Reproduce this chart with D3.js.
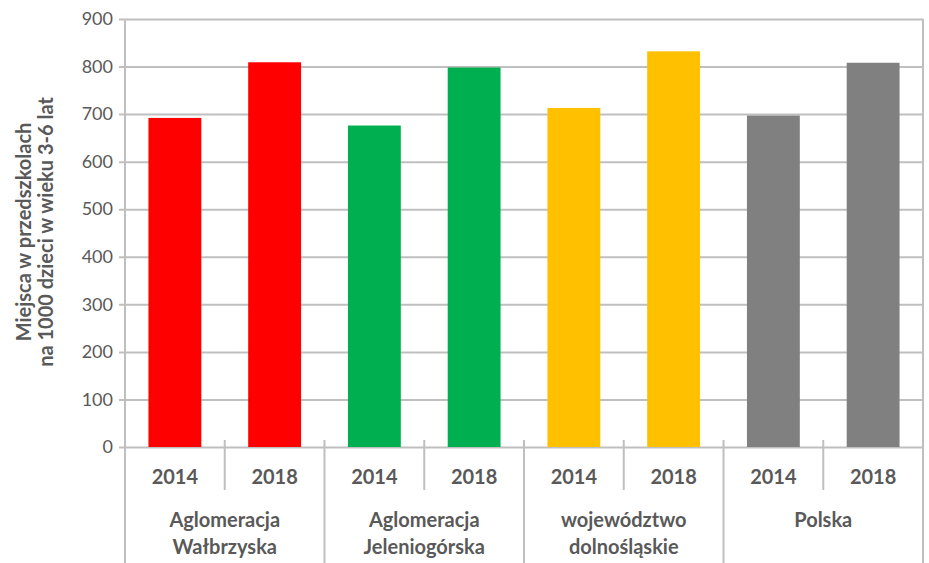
<!DOCTYPE html>
<html>
<head>
<meta charset="utf-8">
<script src="https://cdn.jsdelivr.net/npm/d3@7"></script>
<style>
  body { margin: 0; background: #fff; }
  text { font-family: Lato, "Open Sans", sans-serif; fill: #595959; }
</style>
</head>
<body>
<div id="chart"></div>
<script>
// data
const groups = ["Aglomeracja Wałbrzyska", "Aglomeracja Jeleniogórska", "województwo dolnośląskie", "Polska"];
const groupLines = [["Aglomeracja", "Wałbrzyska"], ["Aglomeracja", "Jeleniogórska"], ["województwo", "dolnośląskie"], ["Polska"]];
const years = ["2014", "2018"];
const values2014 = [692, 676, 713, 697];
const values2018 = [809, 798, 832, 808];
const groupColors = ["#ff0000", "#00b050", "#ffc000", "#808080"];
const yTicks = [0, 100, 200, 300, 400, 500, 600, 700, 800, 900];
const yTitle = ["Miejsca w przedszkolach", "na 1000 dzieci w wieku 3-6 lat"];

const width = 929;
const height = 563;
const margin = { top: 19, right: 6, bottom: 116, left: 125 };

// flatten into one row per bar
const rows = [];
groups.forEach((g, i) => {
  rows.push({ key: g + "|" + years[0], group: i, year: years[0], value: values2014[i] });
  rows.push({ key: g + "|" + years[1], group: i, year: years[1], value: values2018[i] });
});

const svg = d3
  .select("#chart")
  .append("svg")
  .attr("width", width)
  .attr("height", height);

const x = d3
  .scaleBand()
  .domain(rows.map((d) => d.key))
  .range([margin.left, width - margin.right])
  .paddingInner(0.47)
  .paddingOuter(0.235);

const y = d3
  .scaleLinear()
  .domain([0, 900])
  .range([height - margin.bottom, margin.top]);

const step = x.step();
const x0 = margin.left;
const x1 = width - margin.right;
const yBase = y(0);

// gridlines + y axis
const yAxis = svg
  .append("g")
  .attr("transform", `translate(${x0},0)`)
  .call(
    d3.axisLeft(y)
      .tickValues(yTicks)
      .tickSize(-(x1 - x0))
      .tickPadding(12)
  );
yAxis.select(".domain").remove();
yAxis.selectAll(".tick line").attr("stroke", "#bfbfbf").attr("stroke-width", 2).attr("x1", -6);
yAxis.selectAll(".tick text")
  .attr("font-size", 18)
  .attr("font-family", "Lato, sans-serif")
  .attr("fill", "#595959");

// bars
svg
  .append("g")
  .selectAll("rect")
  .data(rows)
  .enter()
  .append("rect")
  .attr("x", (d) => x(d.key))
  .attr("y", (d) => y(d.value))
  .attr("width", x.bandwidth())
  .attr("height", (d) => yBase - y(d.value))
  .attr("fill", (d) => groupColors[d.group]);

// axis frame lines
const lines = svg.append("g").attr("stroke", "#bfbfbf").attr("stroke-width", 2);
lines.append("line").attr("x1", x0).attr("x2", x0).attr("y1", margin.top).attr("y2", height);
lines.append("line").attr("x1", x1).attr("x2", x1).attr("y1", margin.top).attr("y2", height);

// separators between years (short) and groups (long)
rows.forEach((d, i) => {
  if (i === 0) return;
  const sx = x0 + step * i;
  const isGroup = i % 2 === 0;
  lines.append("line")
    .attr("x1", sx).attr("x2", sx)
    .attr("y1", yBase - 7)
    .attr("y2", isGroup ? height : yBase + 43);
});

// year labels
svg
  .append("g")
  .selectAll("text")
  .data(rows)
  .enter()
  .append("text")
  .attr("x", (d) => x(d.key) + x.bandwidth() / 2)
  .attr("y", yBase + 37)
  .attr("text-anchor", "middle")
  .attr("font-size", 20)
  .attr("font-weight", "bold")
  .text((d) => d.year);

// group labels
const gl = svg
  .append("g")
  .selectAll("text")
  .data(groupLines)
  .enter()
  .append("text")
  .attr("x", (d, i) => x0 + step * (2 * i + 1))
  .attr("y", yBase + 80)
  .attr("text-anchor", "middle")
  .attr("font-size", 20)
  .attr("font-weight", "bold");
gl.selectAll("tspan")
  .data((d) => d)
  .enter()
  .append("tspan")
  .attr("x", function () { return this.parentNode.getAttribute("x"); })
  .attr("dy", (d, i) => (i === 0 ? 0 : 27))
  .text((d) => d);

// y axis title
svg
  .append("text")
  .attr("transform", "translate(31,232) rotate(-90)")
  .attr("text-anchor", "middle")
  .attr("font-size", 20)
  .attr("font-weight", "bold")
  .selectAll("tspan")
  .data(yTitle)
  .enter()
  .append("tspan")
  .attr("x", 0)
  .attr("dy", (d, i) => (i === 0 ? 0 : 22))
  .text((d) => d);
</script>
</body>
</html>
